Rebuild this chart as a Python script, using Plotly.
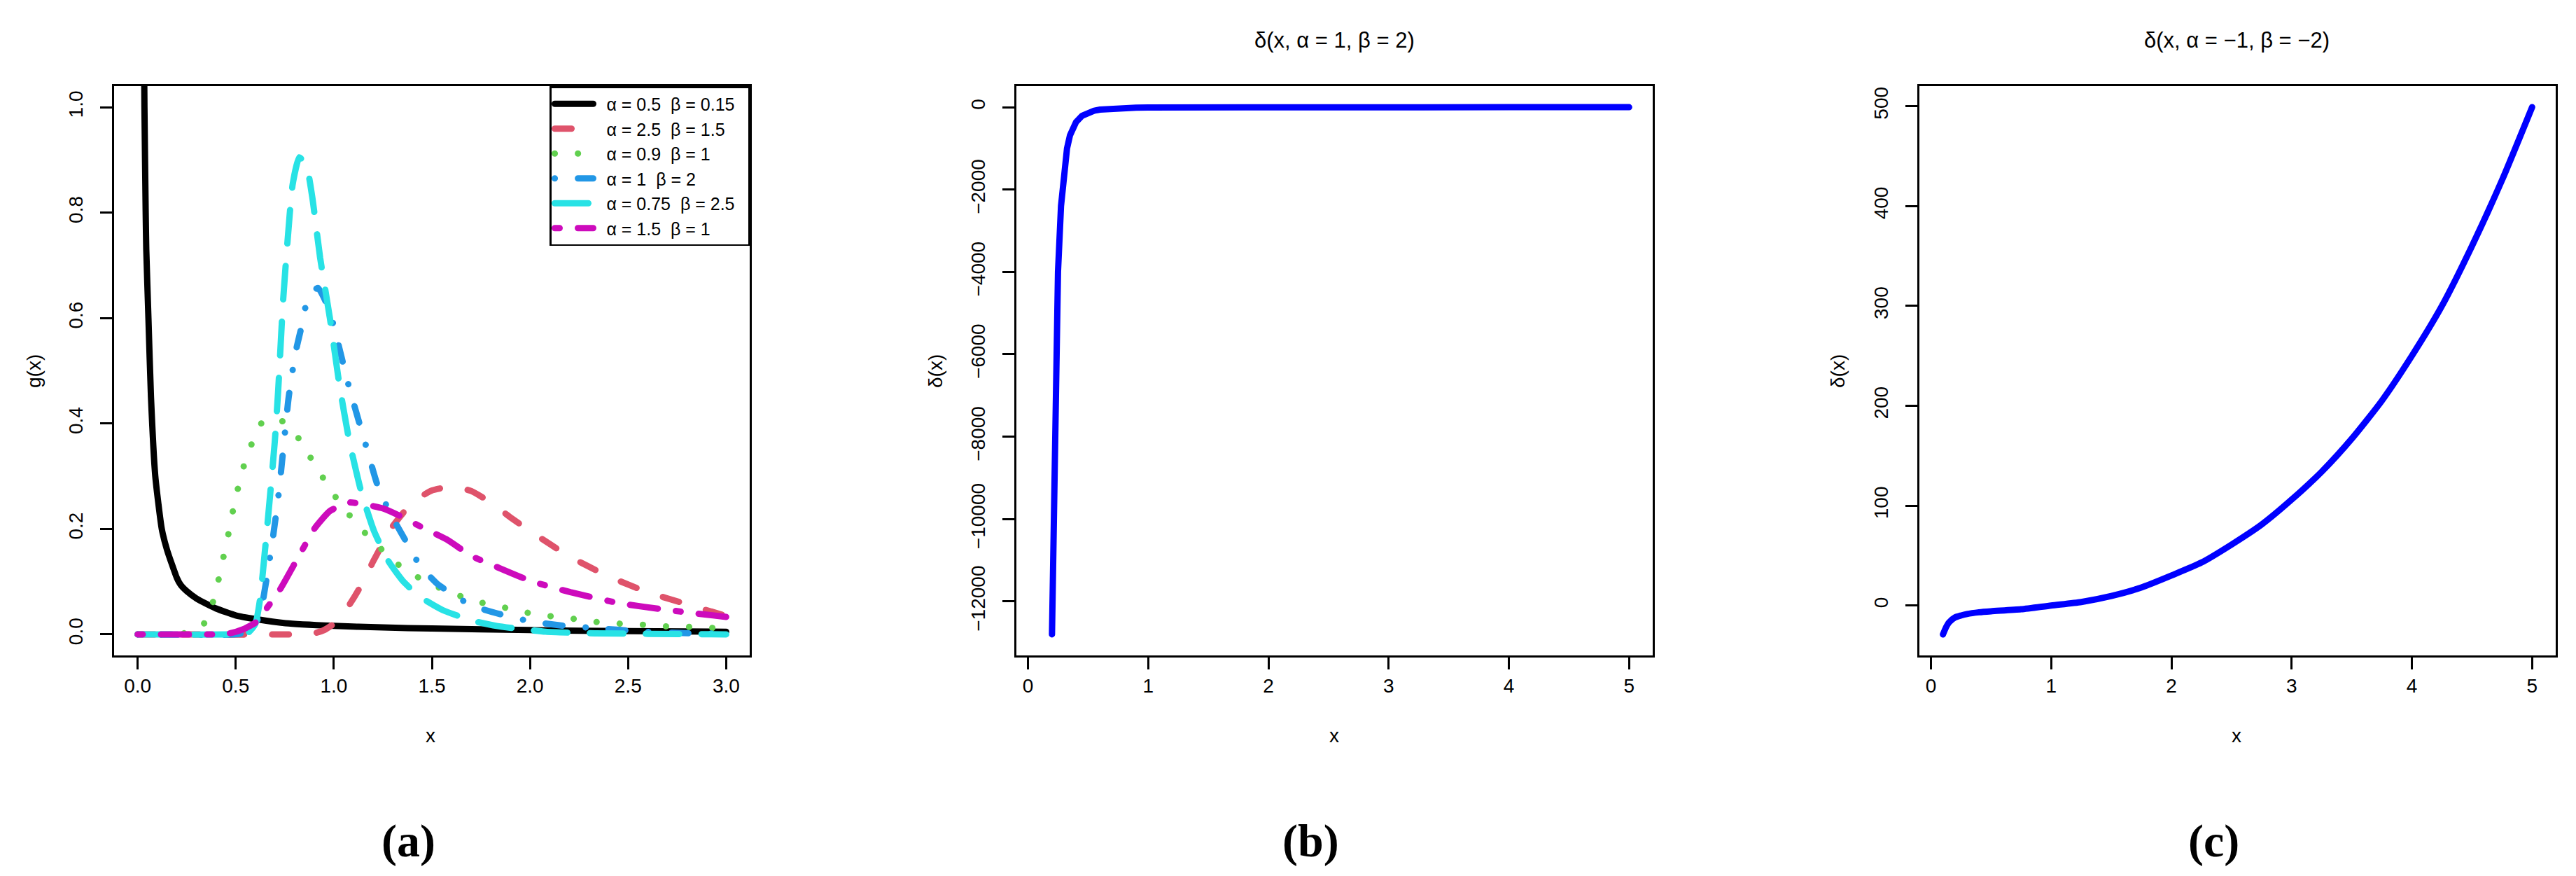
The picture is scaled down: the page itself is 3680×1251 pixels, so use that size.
import plotly.graph_objects as go

W, H = 3680, 1251

# ---------------- Panel (a) data: g(x) ----------------
legend_names = [
    "α = 0.5\u00a0\u00a0β = 0.15",
    "α = 2.5\u00a0\u00a0β = 1.5",
    "α = 0.9\u00a0\u00a0β = 1",
    "α = 1\u00a0\u00a0β = 2",
    "α = 0.75\u00a0\u00a0β = 2.5",
    "α = 1.5\u00a0\u00a0β = 1",
]

xa_black = [0.03, 0.0347, 0.041, 0.044, 0.055, 0.068, 0.09, 0.123, 0.15, 0.2, 0.219, 0.25, 0.3, 0.35,
            0.4, 0.5, 0.6, 0.754, 1.0, 1.25, 1.5, 2.0, 2.5, 3.0]
ya_black = [1.25, 1.0, 0.8, 0.73, 0.6, 0.45, 0.3, 0.2, 0.16, 0.107, 0.094, 0.082, 0.068, 0.058,
            0.049, 0.036, 0.029, 0.021, 0.016, 0.013, 0.011, 0.008, 0.006, 0.005]

xa_red = [0.0, 0.8, 0.9, 0.95, 1.0, 1.05, 1.1, 1.15, 1.2, 1.3, 1.4, 1.5, 1.6, 1.7, 1.8, 1.9, 2.0,
          2.2, 2.4, 2.6, 2.8, 3.0]
ya_red = [0.0, 0.0, 0.002, 0.008, 0.02, 0.04, 0.068, 0.1, 0.138, 0.205, 0.25, 0.273, 0.28, 0.272,
          0.25, 0.222, 0.196, 0.148, 0.11, 0.08, 0.057, 0.035]

xa_green = [0.0, 0.2, 0.25, 0.3, 0.336, 0.382, 0.412, 0.437, 0.462, 0.485, 0.51, 0.54, 0.58, 0.63,
            0.68, 0.735, 0.82, 0.88, 0.945, 1.01, 1.08, 1.16, 1.25, 1.33, 1.43, 1.54, 1.65, 1.765,
            1.88, 2.0, 2.115, 2.23, 2.35, 2.47, 2.59, 2.7, 2.82, 2.95, 3.0]
ya_green = [0.0, 0.0, 0.003, 0.009, 0.019, 0.059, 0.103, 0.146, 0.189, 0.233, 0.275, 0.318, 0.36,
            0.40, 0.41, 0.405, 0.372, 0.336, 0.297, 0.26, 0.226, 0.192, 0.159, 0.132, 0.108, 0.088,
            0.072, 0.059, 0.05, 0.04, 0.034, 0.029, 0.023, 0.02, 0.018, 0.015, 0.014, 0.012, 0.012]

xa_blue = [0.0, 0.5, 0.55, 0.6, 0.63, 0.655, 0.691, 0.72, 0.77, 0.805, 0.83, 0.855, 0.89, 0.92,
           0.96, 1.0, 1.03, 1.08, 1.17, 1.22, 1.28, 1.37, 1.44, 1.53, 1.59, 1.7, 1.83, 2.01, 2.18,
           2.33, 2.58, 2.83, 3.0]
ya_blue = [0.0, 0.0, 0.004, 0.018, 0.048, 0.10, 0.187, 0.27, 0.45, 0.535, 0.575, 0.62, 0.65, 0.657,
           0.63, 0.585, 0.54, 0.466, 0.35, 0.286, 0.235, 0.175, 0.13, 0.095, 0.08, 0.055, 0.04,
           0.024, 0.016, 0.012, 0.005, 0.002, 0.001]

xa_cyan = [0.0, 0.5, 0.56, 0.6, 0.623, 0.657, 0.699, 0.716, 0.741, 0.762, 0.79, 0.824, 0.86, 0.89,
           0.93, 0.98, 1.03, 1.08, 1.14, 1.205, 1.28, 1.355, 1.44, 1.555, 1.705, 1.83, 2.08, 2.33,
           2.6, 3.0]
ya_cyan = [0.0, 0.0, 0.002, 0.02, 0.064, 0.19, 0.365, 0.46, 0.63, 0.736, 0.853, 0.905, 0.89, 0.83,
           0.715, 0.6, 0.47, 0.365, 0.27, 0.196, 0.138, 0.10, 0.071, 0.046, 0.026, 0.016, 0.005,
           0.002, 0.001, 0.0]

xa_magenta = [0.0, 0.4, 0.47, 0.54, 0.6, 0.62, 0.665, 0.729, 0.83, 0.904, 0.98, 1.08, 1.15, 1.25,
              1.33, 1.455, 1.58, 1.70, 1.83, 2.006, 2.206, 2.457, 2.706, 3.0]
ya_magenta = [0.0, 0.0, 0.002, 0.01, 0.022, 0.03, 0.053, 0.087, 0.154, 0.202, 0.234, 0.25, 0.247,
              0.239, 0.226, 0.202, 0.179, 0.149, 0.128, 0.101, 0.08, 0.059, 0.046, 0.033]

xa_ticks = [0.0, 0.5, 1.0, 1.5, 2.0, 2.5, 3.0]
xa_ticktext = ["0.0", "0.5", "1.0", "1.5", "2.0", "2.5", "3.0"]
ya_ticks = [0.0, 0.2, 0.4, 0.6, 0.8, 1.0]
ya_ticktext = ["0.0", "0.2", "0.4", "0.6", "0.8", "1.0"]

# ---------------- Panel (b) data: delta(x, a=1, b=2) ----------------
xb = [0.2, 0.225, 0.25, 0.275, 0.3, 0.325, 0.35, 0.4, 0.45, 0.5, 0.55, 0.6, 0.7, 0.8, 0.9, 1.0,
      1.25, 1.5, 2.0, 2.5, 3.0, 4.0, 5.0]
yb = [-12800, -7400, -4000, -2400, -1500, -1000, -680, -360, -210, -130, -85, -58, -30, -17, -10,
      -6, -2.5, -1.2, -0.4, -0.2, -0.1, -0.03, -0.01]
xb_ticks = [0, 1, 2, 3, 4, 5]
xb_ticktext = ["0", "1", "2", "3", "4", "5"]
yb_ticks = [0, -2000, -4000, -6000, -8000, -10000, -12000]
yb_ticktext = ["0", "\u22122000", "\u22124000", "\u22126000", "\u22128000", "\u221210000", "\u221212000"]

# ---------------- Panel (c) data: delta(x, a=-1, b=-2) ----------------
xc = [0.1, 0.125, 0.15, 0.2, 0.25, 0.3, 0.4, 0.5, 0.75, 1.0, 1.25, 1.5, 1.75, 2.0, 2.25, 2.5, 2.75,
      3.0, 3.25, 3.5, 3.75, 4.0, 4.25, 4.5, 4.75, 5.0]
yc = [-29, -22, -17, -12, -10, -8.5, -6.8, -5.8, -3.8, 0, 3.5, 9.5, 18, 30, 43, 61, 81, 106, 134,
      167, 205, 250, 300, 360, 426, 499]
xc_ticks = [0, 1, 2, 3, 4, 5]
xc_ticktext = ["0", "1", "2", "3", "4", "5"]
yc_ticks = [0, 100, 200, 300, 400, 500]
yc_ticktext = ["0", "100", "200", "300", "400", "500"]

# ---------------- Figure ----------------
SANS = "Liberation Sans, Arial, sans-serif"
SERIF = "Liberation Serif, Times New Roman, serif"
LW = 9
PAD = "\u00a0\u00a0"

fig = go.Figure()

series_a = [
    (xa_black, ya_black, "#000000", "solid"),
    (xa_red, ya_red, "#DF536B", "24px,40px"),
    (xa_green, ya_green, "#61D04F", "0.1px,33px"),
    (xa_blue, ya_blue, "#2297E6", "0.1px,33px,24px,33px"),
    (xa_cyan, ya_cyan, "#28E2E5", "48px,32px"),
    (xa_magenta, ya_magenta, "#CD0BBC", "7px,26px,40px,26px"),
]
for (xs, ys, col, dash), name in zip(series_a, legend_names):
    fig.add_trace(go.Scatter(
        x=xs, y=ys, mode="lines", name=PAD + name + PAD,
        line=dict(color=col, width=LW, dash=dash, shape="spline", smoothing=0.5),
        xaxis="x", yaxis="y", showlegend=True))

fig.add_trace(go.Scatter(x=xb, y=yb, mode="lines", line=dict(color="#0000FF", width=LW),
                         xaxis="x2", yaxis="y2", showlegend=False))
fig.add_trace(go.Scatter(x=xc, y=yc, mode="lines",
                         line=dict(color="#0000FF", width=LW, shape="spline", smoothing=0.6),
                         xaxis="x3", yaxis="y3", showlegend=False))


def xdom(l, r):
    return [l / W, r / W]


def ydom(t, b):
    return [1 - b / H, 1 - t / H]


def axis(domain, rng, tv, tt, is_y=False, anchor=None):
    d = dict(domain=domain, range=rng, showgrid=False, zeroline=False, showline=True,
             linecolor="black", linewidth=2.5, mirror=True, ticks="outside", ticklen=17,
             tickwidth=2.5, tickcolor="black", tickmode="array", tickvals=tv, ticktext=tt,
             tickfont=dict(family=SANS, size=28, color="black"), anchor=anchor,
             ticklabelstandoff=14 if is_y else 0)
    if is_y:
        d["tickangle"] = -90
    return d


TOP, BOT = 115, 928
fig.update_layout(
    width=W, height=H, margin=dict(l=0, r=0, t=0, b=0),
    paper_bgcolor="white", plot_bgcolor="white",
    xaxis=axis(xdom(155, 1063), [-0.12, 3.12], xa_ticks, xa_ticktext, anchor="y"),
    yaxis=axis(ydom(TOP, BOT), [-0.04, 1.04], ya_ticks, ya_ticktext, True, anchor="x"),
    xaxis2=axis(xdom(1444, 2353), [-0.096, 5.196], xb_ticks, xb_ticktext, anchor="y2"),
    yaxis2=axis(ydom(TOP, BOT), [-13312, 512], yb_ticks, yb_ticktext, True, anchor="x2"),
    xaxis3=axis(xdom(2734, 3643), [-0.096, 5.196], xc_ticks, xc_ticktext, anchor="y3"),
    yaxis3=axis(ydom(TOP, BOT), [-50, 520], yc_ticks, yc_ticktext, True, anchor="x3"),
    legend=dict(x=1063 / W, y=1 - TOP / H, xanchor="right", yanchor="top",
                bordercolor="black", borderwidth=2.5, bgcolor="white",
                font=dict(family=SANS, size=25, color="black"), itemwidth=55,
                tracegroupgap=0, traceorder="normal"),
)


def ann(text, px, py, size=28, angle=0, font=SANS, bold=False):
    t = "<b>%s</b>" % text if bold else text
    fig.add_annotation(text=t, x=px / W, y=1 - py / H, xref="paper", yref="paper",
                       showarrow=False, textangle=angle, xanchor="center", yanchor="middle",
                       font=dict(family=font, size=size, color="black"))


# axis titles
ann("x", 607, 1042)
ann("x", 1898, 1042)
ann("x", 3187, 1042)
ann("g(x)", 40, 522, angle=-90)
ann("δ(x)", 1328, 522, angle=-90)
ann("δ(x)", 2617, 522, angle=-90)
# panel titles
ann("δ(x, α = 1, β = 2)", 1898, 49, size=31)
ann("δ(x, α = \u22121, β = \u22122)", 3187, 49, size=31)
# subplot labels
ann("(a)", 575, 1193, size=66, font=SERIF, bold=True)
ann("(b)", 1865, 1193, size=66, font=SERIF, bold=True)
ann("(c)", 3154, 1193, size=66, font=SERIF, bold=True)

post = """
var gd = document.getElementById('{plot_id}');
function roundCaps(){
  gd.querySelectorAll('path.js-line').forEach(function(p){
    p.style.strokeLinecap = 'round';
    p.style.strokeLinejoin = 'round';
  });
}
roundCaps();
gd.on('plotly_afterplot', roundCaps);
"""

fig.write_html("out.html", post_script=post)
